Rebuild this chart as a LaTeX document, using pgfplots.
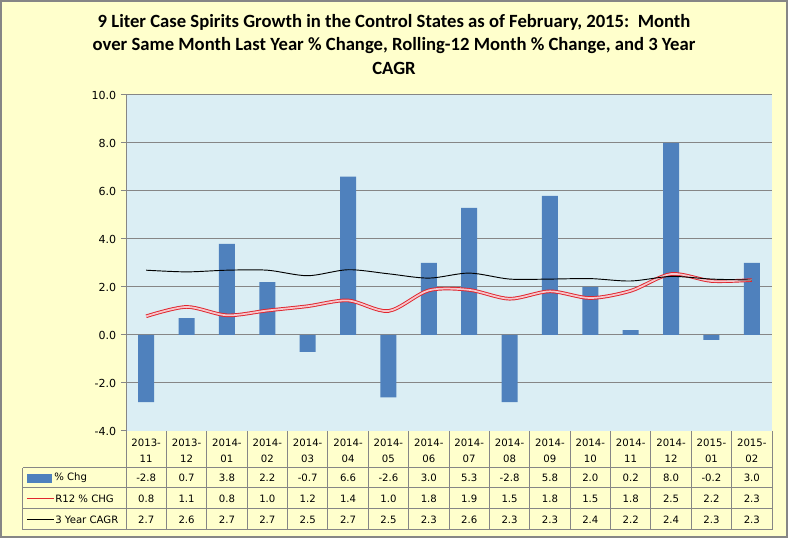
\documentclass[border=0pt]{standalone}
\usepackage{pgfplots}
\pgfplotsset{compat=1.18}
\usepackage{pgfplotstable}
\usepackage{fontspec}
\setmainfont{DejaVu Sans}
\newfontfamily\titlefont{Carlito}
\definecolor{bgyellow}{HTML}{FFFFCC}
\definecolor{plotbg}{HTML}{DBEEF4}
\definecolor{gridgray}{HTML}{868686}
\definecolor{barblue}{HTML}{4F81BD}
\definecolor{rline}{HTML}{E0262E}
\definecolor{rinner}{HTML}{F6C6CC}

\pgfplotstableread{
x bar r12 cagr
0 -2.8 0.78 2.70
1 0.7 1.17 2.63
2 3.8 0.82 2.70
3 2.2 1.02 2.70
4 -0.7 1.20 2.47
5 6.6 1.44 2.72
6 -2.6 1.00 2.55
7 3.0 1.86 2.37
8 5.3 1.88 2.58
9 -2.8 1.51 2.33
10 5.8 1.82 2.33
11 2.0 1.54 2.35
12 0.2 1.84 2.25
13 8.0 2.54 2.44
14 -0.2 2.25 2.33
15 3.0 2.29 2.29
}\datatable

\begin{document}
\begin{tikzpicture}
% background in pixel coordinates (origin = plot bottom-left at px (126,431))
\begin{scope}[x=0.75pt,y=-0.75pt,shift={(-126,-431)}]
  \fill[bgyellow] (0,0) rectangle (788,538);
  \draw[gridgray, line width=1.5pt] (1,1) rectangle (787,537);
  \node[font=\titlefont\bfseries\fontsize{14}{17.3}\selectfont, align=center] at (394,44.5)
    {9 Liter Case Spirits Growth in the Control States as of February, 2015:~~Month\\
     over Same Month Last Year \% Change, Rolling-12 Month \% Change, and 3 Year\\
     CAGR};
\end{scope}

\begin{axis}[
  at={(0,0)}, anchor=south west,
  scale only axis,
  width=484.5pt, height=252pt,
  xmin=-0.5, xmax=15.5,
  ymin=-4, ymax=10,
  xtick=\empty,
  ytick={-2,0,...,10},
  extra y ticks={-4},
  extra y tick style={grid=none},
  ymajorgrids,
  grid style={gridgray, line width=0.75pt},
  axis line style={draw=none},
  axis background/.style={fill=plotbg},
  tick align=outside,
  ytick pos=left,
  major tick length=3.75pt,
  tick style={gridgray, line width=0.75pt},
  /pgf/number format/assume math mode=true,
  yticklabel={\pgfmathprintnumber[fixed,fixed zerofill,precision=1]{\tick}},
  yticklabel style={font=\fontsize{8.3}{9}\selectfont},
  clip=false,
]
\addplot[ybar, bar width=12pt, fill=barblue, draw=none] table[x=x,y=bar]{\datatable};
\addplot[smooth, draw=rline, line width=0.7pt, double=rinner, double distance=1.3pt] table[x=x,y=r12]{\datatable};
\addplot[smooth, black, line width=0.7pt] table[x=x,y=cagr]{\datatable};
\end{axis}

% data table in pixel coordinates
\begin{scope}[x=0.75pt,y=-0.75pt,shift={(-126,-431)}]
  \draw[gridgray, line width=0.75pt] (126,95) -- (126,530);
  \foreach \i in {1,...,16} {
    \draw[gridgray, line width=0.75pt] ({126+40.375*\i},431) -- ({126+40.375*\i},530);
  }
  \foreach \yy in {468,488,509,530} {
    \draw[gridgray, line width=0.75pt] (23,\yy) -- (772.0,\yy);
  }
  \draw[gridgray, line width=0.75pt] (23,468) -- (23,530);
  \foreach \ha/\hb/\va/\vb/\vc [count=\i from 0] in {
    2013-/11/-2.8/0.8/2.7, 2013-/12/0.7/1.1/2.6, 2014-/01/3.8/0.8/2.7, 2014-/02/2.2/1.0/2.7,
    2014-/03/-0.7/1.2/2.5, 2014-/04/6.6/1.4/2.7, 2014-/05/-2.6/1.0/2.5, 2014-/06/3.0/1.8/2.3,
    2014-/07/5.3/1.9/2.6, 2014-/08/-2.8/1.5/2.3, 2014-/09/5.8/1.8/2.3, 2014-/10/2.0/1.5/2.4,
    2014-/11/0.2/1.8/2.2, 2014-/12/8.0/2.5/2.4, 2015-/01/-0.2/2.2/2.3, 2015-/02/3.0/2.3/2.3} {
    \pgfmathsetmacro{\cx}{126+40.375*(\i+0.5)}
    \node[font=\fontsize{7.6}{12}\selectfont, align=center, inner sep=0pt] at (\cx,450.5) {\ha\\\hb};
    \node[font=\fontsize{7.6}{9}\selectfont, inner sep=0pt] at (\cx,478) {\va};
    \node[font=\fontsize{7.6}{9}\selectfont, inner sep=0pt] at (\cx,498.5) {\vb};
    \node[font=\fontsize{7.6}{9}\selectfont, inner sep=0pt] at (\cx,519.5) {\vc};
  }
  \fill[barblue] (27,474) rectangle (52,483);
  \node[font=\fontsize{7.6}{9}\selectfont, anchor=west, inner sep=0pt] at (54,478) {\% Chg};
  \draw[rline, line width=0.75pt] (27,498.5) -- (54,498.5);
  \node[font=\fontsize{7.6}{9}\selectfont, anchor=west, inner sep=0pt] at (55,498.5) {R12 \% CHG};
  \draw[black, line width=0.75pt] (27,519.5) -- (54,519.5);
  \node[font=\fontsize{7.6}{9}\selectfont, anchor=west, inner sep=0pt] at (55,519.5) {3 Year CAGR};
\end{scope}
\end{tikzpicture}
\end{document}
